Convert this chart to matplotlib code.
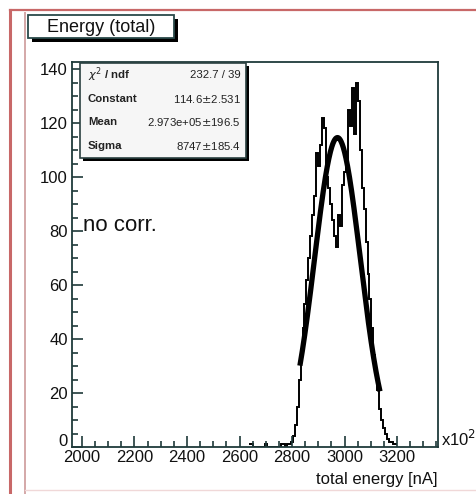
import numpy as np
import matplotlib
matplotlib.use("Agg")
import matplotlib.pyplot as plt
from matplotlib.patches import Rectangle
from matplotlib.lines import Line2D
from matplotlib.ticker import MultipleLocator

plt.rcParams['font.family'] = ['Liberation Sans', 'DejaVu Sans']

# ---------------- data ----------------
bin_start = 2637.5
bin_width = 7.5
counts = [1, 1, 0, 0, 0, 0, 0, 0, 1, 0, 0, 0, 0, 0, 0, 0, 1, 1, 0, 1, 1,
          2, 4, 8, 15, 25, 34, 44, 53, 62, 70, 78, 86, 93, 109, 104, 112,
          122, 118, 100, 96, 90, 84, 78, 74, 86, 82, 97, 102, 106, 125, 119,
          133, 116, 135, 128, 110, 96, 88, 76, 64, 55, 44, 34, 27, 21, 14,
          10, 7, 5, 3, 2, 2, 1, 1]

fit_constant = 114.6
fit_mean = 2973.0
fit_sigma = 87.47
fit_range = (2830, 3135)

stats_labels = ["$\\chi^2$ / ndf", "Constant", "Mean", "Sigma"]
stats_values = ["232.7 / 39", "114.6$\\pm$2.531", "2.973e+05$\\pm$196.5", "8747$\\pm$185.4"]

title = "Energy (total)"
xlabel = "total energy [nA]"
note = "no corr."
xlim = (1962, 3356)
ylim = (0, 142.6)
xticks = [2000, 2200, 2400, 2600, 2800, 3000, 3200]
yticks = [0, 20, 40, 60, 80, 100, 120, 140]

# ---------------- figure ----------------
W, H = 477, 494
fig = plt.figure(figsize=(W / 100, H / 100), dpi=100)
fig.patch.set_facecolor('white')

def fx(px):
    return px / W

def fy(py):
    return 1 - py / H

axcol = '#1f3a3a'
ax = fig.add_axes([fx(72), fy(447), fx(438) - fx(72), fy(62) - fy(447)])
ax.set_xlim(*xlim)
ax.set_ylim(*ylim)

edges = bin_start + bin_width * np.arange(len(counts) + 1)
ax.stairs(counts, edges, color='black', lw=1.4, baseline=None)

xf = np.linspace(fit_range[0], fit_range[1], 300)
yf = fit_constant * np.exp(-0.5 * ((xf - fit_mean) / fit_sigma) ** 2)
ax.plot(xf, yf, color='black', lw=3.8, solid_capstyle='butt')

for s in ['left', 'bottom', 'right', 'top']:
    ax.spines[s].set_color(axcol)
    ax.spines[s].set_linewidth(1.3)
ax.set_xticks(xticks)
ax.set_yticks(yticks)
# the "0" label is drawn separately, slightly raised as in the reference
ax.set_yticklabels([''] + [str(v) for v in yticks[1:]])
ax.xaxis.set_minor_locator(MultipleLocator(50))
ax.yaxis.set_minor_locator(MultipleLocator(5))
ax.tick_params(axis='both', which='both', direction='in', top=False, right=False,
               color=axcol, width=1.2, labelsize=12, labelcolor='#111111')
ax.tick_params(axis='both', which='major', length=8)
ax.tick_params(axis='both', which='minor', length=4)
ax.tick_params(axis='x', pad=2)
ax.tick_params(axis='y', pad=3)
fig.text(fx(68), fy(441), str(yticks[0]), fontsize=12, ha='right', va='center',
         color='#111111')

# stats box
sx0, sy0, sx1, sy1 = 80, 63, 246, 158
fig.add_artist(Rectangle((fx(sx0 + 3), fy(sy1 + 3)), fx(sx1) - fx(sx0), fy(sy0) - fy(sy1),
                         transform=fig.transFigure, facecolor='black', edgecolor='none', zorder=5))
fig.add_artist(Rectangle((fx(sx0), fy(sy1)), fx(sx1) - fx(sx0), fy(sy0) - fy(sy1),
                         transform=fig.transFigure, facecolor='#f6f6f6', edgecolor='#2a4040',
                         lw=1.2, zorder=6))
rows_y = [75, 99, 122, 146]
for lab, val, ry in zip(stats_labels, stats_values, rows_y):
    fig.text(fx(88), fy(ry), lab, fontsize=8.2, weight='bold', color='#222222',
             ha='left', va='center', zorder=7)
    fig.text(fx(241), fy(ry), val, fontsize=8.2, color='#222222',
             ha='right', va='center', zorder=7)

# title box
tx0, ty0, tx1, ty1 = 28, 15, 174, 38
fig.add_artist(Rectangle((fx(tx0 + 4), fy(ty1 + 4)), fx(tx1) - fx(tx0), fy(ty0) - fy(ty1),
                         transform=fig.transFigure, facecolor='black', edgecolor='none', zorder=5))
fig.add_artist(Rectangle((fx(tx0), fy(ty1)), fx(tx1) - fx(tx0), fy(ty0) - fy(ty1),
                         transform=fig.transFigure, facecolor='white', edgecolor='#2a4a4a',
                         lw=1.3, zorder=6))
fig.text(fx((tx0 + tx1) / 2), fy((ty0 + ty1) / 2 + 1), title, fontsize=13,
         ha='center', va='center', color='#111111', zorder=7)

# axis annotations
fig.text(fx(438), fy(479), xlabel, fontsize=12, ha='right', va='center', color='#111111')
fig.text(fx(441), fy(439), "x10$^{2}$", fontsize=12, ha='left', va='center', color='#111111')
fig.text(fx(83), fy(225), note, fontsize=16, ha='left', va='center', color='#111111')

# outer frame lines
fig.add_artist(Line2D([fx(10), fx(10)], [fy(10), fy(494)], transform=fig.transFigure,
                      color='#c86868', lw=2.2))
fig.add_artist(Line2D([fx(10), fx(477)], [fy(10), fy(10)], transform=fig.transFigure,
                      color='#c86868', lw=1.6))
fig.add_artist(Line2D([fx(25), fx(25)], [fy(13), fy(494)], transform=fig.transFigure,
                      color='#d4a8a8', lw=1.4))
fig.add_artist(Line2D([fx(25), fx(477)], [fy(490), fy(490)], transform=fig.transFigure,
                      color='#f0d8d8', lw=1.0))

fig.savefig('out.png', dpi=100)
